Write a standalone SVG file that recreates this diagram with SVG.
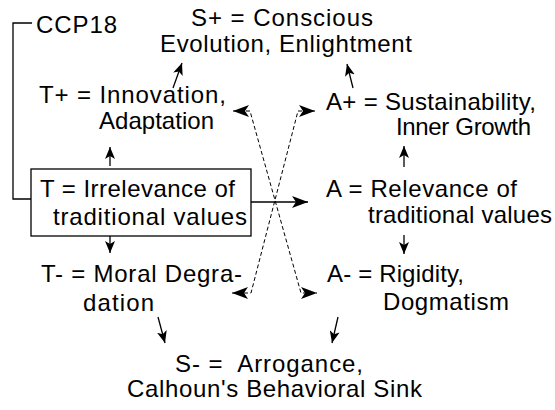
<svg xmlns="http://www.w3.org/2000/svg" width="555" height="410" viewBox="0 0 555 410">
<style>
text{font-family:"Liberation Sans",Arial,sans-serif;font-size:24px;fill:#000}
.s{stroke:#000;stroke-width:1.3;fill:none}
.d{stroke:#000;stroke-width:1;fill:none;stroke-dasharray:4 2.5}
.h{fill:#000;stroke:none}
</style>
<defs>
<marker id="ah" viewBox="0 0 12 10" refX="12" refY="5" markerWidth="12" markerHeight="10" markerUnits="userSpaceOnUse" orient="auto">
<path d="M0,0 L12,5 L0,10 L3,5 z" class="h"/>
</marker>
<marker id="ahL" viewBox="0 0 16 12" refX="16" refY="6" markerWidth="16" markerHeight="12" markerUnits="userSpaceOnUse" orient="auto-start-reverse">
<path d="M0,0 L16,6 L0,12 L4,6 z" class="h"/>
</marker>
</defs>
<rect width="555" height="410" fill="#fff"/>
<g id="connectors">
<path class="s" d="M32,23 H13 V199 H31"/>
<line class="s" x1="251" y1="202" x2="308" y2="202" marker-end="url(#ahL)"/>
<line class="s" x1="110" y1="166" x2="110" y2="147" marker-end="url(#ah)"/>
<line class="s" x1="110" y1="236" x2="110" y2="253" marker-end="url(#ah)"/>
<line class="s" x1="173" y1="88" x2="182" y2="63" marker-end="url(#ah)"/>
<line class="s" x1="353" y1="88" x2="347" y2="64" marker-end="url(#ah)"/>
<line class="s" x1="404" y1="167" x2="404" y2="146" marker-end="url(#ah)"/>
<line class="s" x1="404" y1="235" x2="404" y2="254" marker-end="url(#ah)"/>
<line class="s" x1="158" y1="317" x2="165" y2="343" marker-end="url(#ah)"/>
<line class="s" x1="338" y1="317" x2="332" y2="343" marker-end="url(#ah)"/>
<path class="d" d="M233,111 H250 L301,293 H317" marker-start="url(#ahL)" marker-end="url(#ahL)"/>
<path class="d" d="M315,111 H298 L251,293 H232" marker-start="url(#ahL)" marker-end="url(#ahL)"/>
</g>
<g id="ccp18"><text x="36" y="33" textLength="81" lengthAdjust="spacing">CCP18</text></g>
<g id="splus">
<text x="191" y="26" textLength="182" lengthAdjust="spacing">S+ = Conscious</text>
<text x="160" y="52" textLength="252" lengthAdjust="spacing">Evolution, Enlightment</text>
</g>
<g id="tplus">
<text x="39" y="103" textLength="187" lengthAdjust="spacing">T+ = Innovation,</text>
<text x="99" y="129" textLength="115" lengthAdjust="spacing">Adaptation</text>
</g>
<g id="aplus">
<text x="326" y="110" textLength="210" lengthAdjust="spacing">A+ = Sustainability,</text>
<text x="396" y="135" textLength="135" lengthAdjust="spacing">Inner Growth</text>
</g>
<g id="t">
<rect x="31" y="169" width="220" height="67" fill="none" stroke="#000" stroke-width="1.3"/>
<text x="40" y="197" textLength="195" lengthAdjust="spacing">T = Irrelevance of</text>
<text x="53" y="225" textLength="194" lengthAdjust="spacing">traditional values</text>
</g>
<g id="a">
<text x="326" y="197" textLength="191" lengthAdjust="spacing">A = Relevance of</text>
<text x="368" y="223" textLength="184" lengthAdjust="spacing">traditional values</text>
</g>
<g id="tminus">
<text x="41" y="282" textLength="201" lengthAdjust="spacing">T- = Moral Degra-</text>
<text x="83" y="311" textLength="71" lengthAdjust="spacing">dation</text>
</g>
<g id="aminus">
<text x="327" y="282" textLength="137" lengthAdjust="spacing">A- = Rigidity,</text>
<text x="383" y="310" textLength="126" lengthAdjust="spacing">Dogmatism</text>
</g>
<g id="sminus">
<text x="175" y="372" textLength="188" lengthAdjust="spacing" xml:space="preserve">S- =  Arrogance,</text>
<text x="127" y="397" textLength="295" lengthAdjust="spacing">Calhoun's Behavioral Sink</text>
</g>
</svg>
